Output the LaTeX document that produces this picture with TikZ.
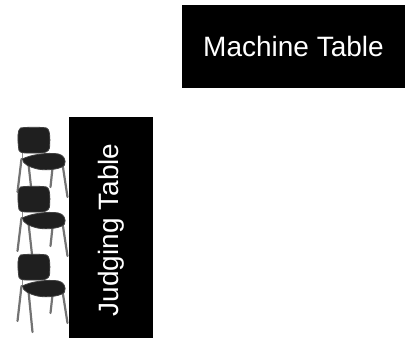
\documentclass[tikz,border=0pt]{standalone}
\usepackage{fontspec}
\setmainfont{Liberation Sans}
\usetikzlibrary{calc}
\tikzset{
	tablebox/.style={fill=black, text=white, inner sep=0pt, font=\fontsize{28}{30}\selectfont},
	chairleg/.style={line width=2.2pt, color=black!55, line cap=round},
	chairpad/.style={fill=black!88, draw=black!75, line width=0.8pt}
}
% one chair, #1 #2 is the top left corner of its back, #3 #4 #5 #6 are the leg lengths
\def\chair(#1,#2)(#3:#4:#5:#6){
	\begin{scope}[shift={(#1,#2)}]
		\draw[chairleg] (4, 31) -- (0, #3);
		\draw[chairleg] (11, 36) -- (15, #4);
		\draw[chairleg] (35, 40) -- (33, #5);
		\draw[chairleg] (45, 36) -- (50, #6);
		\draw[line width=1.6pt, color=black!45] (5, 24) -- (5, 32);
		\draw[chairpad] (3, 0) .. controls (9, -1) and (24, -1) .. (29, 0) .. controls (32, 1) and (33, 8) .. (32, 20) .. controls (31, 24) and (27, 25) .. (22, 25) -- (9, 25) .. controls (3, 25) and (1, 24) .. (1, 19) .. controls (0, 10) and (0, 2) .. (3, 0) -- cycle;
		\draw[chairpad] (5, 31) .. controls (12, 27) and (30, 24) .. (41, 26) .. controls (46, 27) and (49, 32) .. (47, 37) .. controls (44, 41) and (30, 43) .. (20, 41) .. controls (12, 39) and (5, 36) .. (5, 31) -- cycle;
	\end{scope}
}

\begin{document}
\begin{tikzpicture}[x=1pt, y=-1pt]
	%%%%% START %%%%%
	\useasboundingbox (0, 0) rectangle (405, 338);

	\node[tablebox, minimum width=223pt, minimum height=83pt] (machinetable) at (293.5, 46.5) {Machine Table};
	\node[tablebox, rotate=90, minimum width=221pt, minimum height=84pt] (judgingtable) at (111.25, 227.5) {Judging Table\kern5pt};

	\chair(17.5, 128)(64:72:59:69);
	\chair(17.5, 187)(64:72:59:69);
	\chair(17.5, 255)(66:77:58:68);
	%%%%% END %%%%%
\end{tikzpicture}
\end{document}
